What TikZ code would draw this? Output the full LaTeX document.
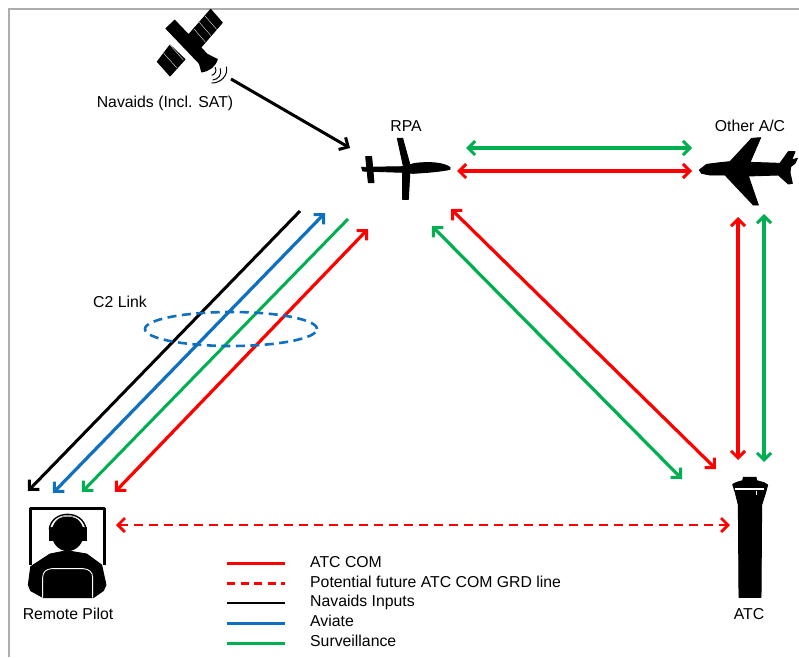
\documentclass[tikz,border=0pt]{standalone}
\usepackage{fontspec}
\setmainfont{Liberation Sans}
\usetikzlibrary{arrows.meta}
\definecolor{cred}{HTML}{FF0000}
\definecolor{cgreen}{HTML}{00B050}
\definecolor{cblue}{HTML}{0F70C0}
\tikzset{
  lab/.style={inner sep=0pt,font=\fontsize{15.8}{18}\selectfont,text=black},
  leglab/.style={lab,anchor=west},
  tipped/.style={line width=3.2pt,{Straight Barb[length=7pt,width=14pt,line width=3pt]}-{Straight Barb[length=7pt,width=14pt,line width=3pt]}},
  dashtipped/.style={line width=2.6pt,{Straight Barb[length=7pt,width=14pt,line width=2.8pt]}-{Straight Barb[length=7pt,width=14pt,line width=2.8pt]},dash pattern=on 9pt off 6pt},
  onetip/.style={line width=3pt,-{Straight Barb[length=7pt,width=14pt,line width=3pt]}},
  legline/.style={line width=3pt},
  zoomed/.style={x=0.33333pt,y=-0.33333pt},
  ink/.style={fill=black,draw=black,line width=0.9pt,line join=round},
}
\begin{document}
\begin{tikzpicture}[x=1pt,y=-1pt]
\useasboundingbox (0,0) rectangle (799,657);
\fill[white] (0,0) rectangle (799,657);
% frame
\draw[color=black!32,line width=1.8pt] (9,657) -- (9,9) -- (799,9);
% labels
\node[lab] (nav) at (165,103) {Navaids (Incl. SAT)};
\node[lab] (rpa) at (406,126) {RPA};
\node[lab] (oth) at (750,126) {Other A/C};
\node[lab] (c2) at (120,302) {C2 Link};
\node[lab] (pilot) at (68,614) {Remote Pilot};
\node[lab] (atc) at (749,614) {ATC};
% legend
\coordinate (l1a) at (227,563.5); \coordinate (l1b) at (285,563.5);
\coordinate (l2a) at (227,583.5); \coordinate (l2b) at (285,583.5);
\coordinate (l3a) at (227,603); \coordinate (l3b) at (285,603);
\coordinate (l4a) at (227,623); \coordinate (l4b) at (285,623);
\coordinate (l5a) at (227,643); \coordinate (l5b) at (285,643);
\draw[legline,cred] (l1a) -- (l1b);
\draw[cred,line width=2.6pt,dash pattern=on 8pt off 5.5pt] (l2a) -- (l2b);
\draw[black,line width=2.4pt] (l3a) -- (l3b);
\draw[legline,cblue] (l4a) -- (l4b);
\draw[legline,cgreen] (l5a) -- (l5b);
\node[leglab] (t1) at (310,562) {ATC COM};
\node[leglab] (t2) at (310,582) {Potential future ATC COM GRD line};
\node[leglab] (t3) at (310,602) {Navaids Inputs};
\node[leglab] (t4) at (310,621) {Aviate};
\node[leglab] (t5) at (310,641) {Surveillance};
% connector ends
\coordinate (sat) at (231,79); \coordinate (rpaS) at (350,148);
\coordinate (rg) at (466,148); \coordinate (og) at (692,148);
\coordinate (rr) at (457,171); \coordinate (or) at (692,171);
\coordinate (bkR) at (300,211); \coordinate (bkP) at (28,491);
\coordinate (blR) at (325,213); \coordinate (blP) at (53,493);
\coordinate (grR) at (348,219); \coordinate (grP) at (82,492);
\coordinate (reR) at (368,229); \coordinate (reP) at (115,492);
\coordinate (arR) at (451,209); \coordinate (arA) at (716,469);
\coordinate (agR) at (432,226); \coordinate (agA) at (682,479);
\coordinate (orO) at (738,217); \coordinate (orA) at (738,460);
\coordinate (ogO) at (764,214); \coordinate (ogA) at (764,462);
\coordinate (dP) at (116,525); \coordinate (dA) at (730,525);
% connectors
\draw[onetip,black] (sat) -- (rpaS);
\draw[tipped,cgreen] (rg) -- (og);
\draw[tipped,cred] (rr) -- (or);
\draw[onetip,black] (bkR) -- (bkP);
\draw[tipped,cblue] (blR) -- (blP);
\draw[onetip,cgreen] (grR) -- (grP);
\draw[tipped,cred] (reR) -- (reP);
\draw[tipped,cred] (arR) -- (arA);
\draw[tipped,cgreen] (agR) -- (agA);
\draw[tipped,cred] (orO) -- (orA);
\draw[tipped,cgreen] (ogO) -- (ogA);
\draw[dashtipped,cred] (dP) -- (dA);
% C2 ellipse
\draw[cblue,line width=2.6pt,dash pattern=on 9pt off 5.5pt] (231,329) ellipse [x radius=86pt,y radius=17pt];
% satellite
\begin{scope}[shift={(120,0)},zoomed]
  \fill[ink] (205,105) -- (272,28) -- (307,68) -- (240,145) -- cycle;
  \fill[ink] (150,135) -- (112,185) -- (150,228) -- (195,178) -- cycle;
  \draw[white,line width=0.35pt] (238,67) -- (273,107) (222,87) -- (256,126) (255,48) -- (290,88)
     (131,160) -- (170,203) (150,135) -- (190,180);
  \draw[black,line width=13pt] (150,72) -- (255,182);
  \fill[ink] (262,163) -- (292,178) .. controls (285,200) and (268,212) .. (245,216) -- (238,190) -- cycle;
  \draw[black,line width=1pt] (285,202) .. controls (292,212) and (285,224) .. (275,226);
  \draw[black,line width=1pt] (301,205) .. controls (306,225) and (295,238) .. (278,240);
  \draw[black,line width=1pt] (319,200) .. controls (326,225) and (302,250) .. (275,249);
\end{scope}
% RPA
\begin{scope}[shift={(340,110)},zoomed]
  \fill[ink] (65,172) -- (190,170) -- (225,160) .. controls (270,155) and (310,158) .. (330,172)
     -- (330,178) .. controls (300,185) and (250,188) .. (220,190) -- (190,187) -- (68,183) -- cycle;
  \fill[ink] (172,85) -- (188,85) -- (210,165) -- (190,168) -- cycle;
  \fill[ink] (188,180) -- (210,180) -- (205,268) -- (188,268) -- cycle;
  \fill[ink] (77,140) -- (95,140) -- (102,218) -- (85,218) -- cycle;
\end{scope}
% Other A/C
\begin{scope}[shift={(680,110)},zoomed]
  \fill[ink] (58,180) -- (80,163) -- (120,158) -- (150,155) -- (215,85) -- (242,83) -- (210,157)
     -- (300,160) -- (325,125) -- (345,125) -- (335,150) -- (352,145) -- (345,160) -- (332,170)
     -- (330,188) -- (337,220) -- (325,222) -- (295,195) -- (205,198) -- (235,285) -- (220,285)
     -- (135,195) -- (90,195) -- (65,190) -- cycle;
\end{scope}
% Remote pilot
\begin{scope}[shift={(0,470)},zoomed]
  \draw[black,line width=3.2pt,line join=round] (92,285) -- (92,115) -- (313,115) -- (313,285);
  \fill[ink] (130,383) -- (92,362) -- (85,345) -- (92,290) -- (150,252) -- (200,242) -- (260,252)
     -- (305,285) -- (318,345) -- (310,362) -- (280,383) -- cycle;
  \fill[ink] (203,190) ellipse [x radius=47,y radius=52];
  \fill[ink] (147,172) rectangle (160,212);
  \fill[ink] (246,172) rectangle (260,212);
  \draw[white,line width=0.5pt] (153,172) .. controls (160,128) and (245,128) .. (253,172);
  \draw[black,line width=1.4pt] (148,178) .. controls (155,118) and (250,118) .. (258,178);
  \draw[white,line width=0.9pt] (128,383) -- (128,322) .. controls (128,305) and (140,297) .. (155,296)
     -- (250,296) .. controls (265,297) and (278,305) .. (278,322) -- (278,383);
\end{scope}
% ATC tower
\begin{scope}[shift={(690,450)},zoomed]
  \fill[ink] (160,82) -- (198,82) -- (200,92) -- (222,98) -- (233,105) -- (226,130) -- (215,165)
     -- (213,442) -- (147,442) -- (145,165) -- (135,125) -- (128,103) -- (140,97) -- (158,92) -- cycle;
  \draw[white,line width=1.5pt] (134,117) -- (223,117);
  \draw[white,line width=0.5pt] (198,122) -- (198,136);
\end{scope}
\end{tikzpicture}
\end{document}
